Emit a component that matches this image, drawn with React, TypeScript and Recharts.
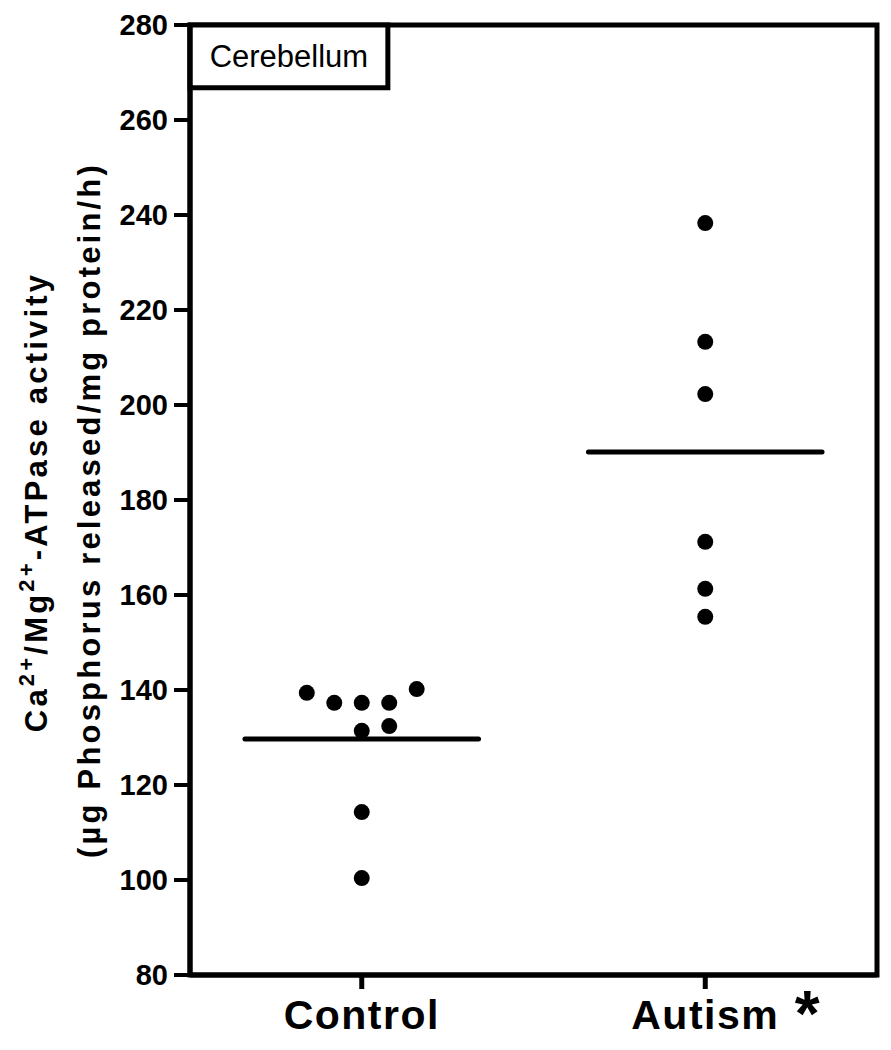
import React from 'react';
import {
  ComposedChart,
  Scatter,
  XAxis,
  YAxis,
  ReferenceLine,
  ReferenceArea,
} from 'recharts';

// groups on the x axis (numeric axis 0..2, groups centred at 0.5 and 1.5)
const groupNames = ['Control', 'Autism'];
const groupTicks = [0.5, 1.5];
const yTicks = [80, 100, 120, 140, 160, 180, 200, 220, 240, 260, 280];

// Ca2+/Mg2+-ATPase activity
const controlValues = [139.4, 137.3, 137.3, 137.3, 140.2, 131.4, 132.4, 114.3, 100.4];
const controlX = [0.34, 0.42, 0.5, 0.58, 0.66, 0.5, 0.58, 0.5, 0.5];
const autismValues = [238.3, 213.3, 202.3, 171.2, 161.3, 155.4];
const autismX = [1.5, 1.5, 1.5, 1.5, 1.5, 1.5];

const controlMean = 129.7;
const autismMean = 190.1;
const meanHalfWidth = 0.34;

const controlData = controlValues.map((v, i) => ({ x: controlX[i], y: v }));
const autismData = autismValues.map((v, i) => ({ x: autismX[i], y: v }));

const FONT = '"Liberation Sans", Arial, Helvetica, sans-serif';

const Dot = (props: any) => <circle cx={props.cx} cy={props.cy} r={8} fill="#000" />;

const XTick = (props: any) => {
  const { x, y, payload } = props;
  const idx = groupTicks.indexOf(payload.value);
  const name = groupNames[idx] ?? '';
  return (
    <g>
      <text
        x={x}
        y={y + 38}
        textAnchor="middle"
        fontFamily={FONT}
        fontWeight="bold"
        fontSize={41}
        letterSpacing={1.5}
        fill="#000"
      >
        {name}
      </text>
      {idx === 1 && (
        <text x={x + 102} y={y + 45} textAnchor="middle" fontFamily={FONT} fontWeight="bold" fontSize={64} fill="#000">
          *
        </text>
      )}
    </g>
  );
};

const YLabel = (props: any) => {
  const vb = props.viewBox || { x: 0, y: 25, width: 190, height: 950 };
  const cy = vb.y + vb.height / 2;
  const common = {
    textAnchor: 'middle' as const,
    fontFamily: FONT,
    fontWeight: 'bold' as const,
    fontSize: 31,
    letterSpacing: 3.2,
    fill: '#000',
  };
  return (
    <g>
      <text x={47} y={cy + 2} transform={`rotate(-90, 47, ${cy + 2})`} {...common}>
        Ca<tspan dy={-13} fontSize={22}>2+</tspan>
        <tspan dy={13}>/Mg</tspan>
        <tspan dy={-13} fontSize={22}>2+</tspan>
        <tspan dy={13}>-ATPase activity</tspan>
      </text>
      <text x={100} y={cy + 10} transform={`rotate(-90, 100, ${cy + 10})`} {...common}>
        (µg Phosphorus released/mg protein/h)
      </text>
    </g>
  );
};

export default function App() {
  return (
    <div style={{ position: 'absolute', left: 0, top: 0, background: '#fff' }}>
      <ComposedChart width={891} height={1050} margin={{ top: 25, right: 14, bottom: 0, left: 0 }}>
        <XAxis
          type="number"
          dataKey="x"
          domain={[0, 2]}
          ticks={groupTicks}
          height={75}
          tick={<XTick />}
          tickSize={14}
          axisLine={{ stroke: '#000', strokeWidth: 5 }}
          tickLine={{ stroke: '#000', strokeWidth: 5 }}
          allowDataOverflow
        />
        <YAxis
          type="number"
          dataKey="y"
          domain={[80, 280]}
          ticks={yTicks}
          width={190}
          tickSize={16}
          tickMargin={6}
          axisLine={{ stroke: '#000', strokeWidth: 5 }}
          tickLine={{ stroke: '#000', strokeWidth: 4 }}
          tick={{ fill: '#000', fontSize: 29, fontWeight: 'bold', fontFamily: FONT }}
          label={<YLabel />}
          allowDataOverflow
        />
        <ReferenceArea x1={0} x2={2} y1={80} y2={280} fill="none" stroke="#000" strokeWidth={5} />
        <ReferenceArea
          x1={0}
          x2={0.576}
          y1={266.8}
          y2={280}
          fill="#fff"
          fillOpacity={1}
          stroke="#000"
          strokeWidth={5}
          label={{ value: 'Cerebellum', position: 'center', fontSize: 31, fill: '#000', fontFamily: FONT }}
        />
        <ReferenceLine
          segment={[{ x: 0.5 - meanHalfWidth, y: controlMean }, { x: 0.5 + meanHalfWidth, y: controlMean }]}
          stroke="#000"
          strokeWidth={5}
          strokeLinecap="round"
        />
        <ReferenceLine
          segment={[{ x: 1.5 - meanHalfWidth, y: autismMean }, { x: 1.5 + meanHalfWidth, y: autismMean }]}
          stroke="#000"
          strokeWidth={5}
          strokeLinecap="round"
        />
        <Scatter data={controlData} shape={<Dot />} isAnimationActive={false} />
        <Scatter data={autismData} shape={<Dot />} isAnimationActive={false} />
      </ComposedChart>
    </div>
  );
}
